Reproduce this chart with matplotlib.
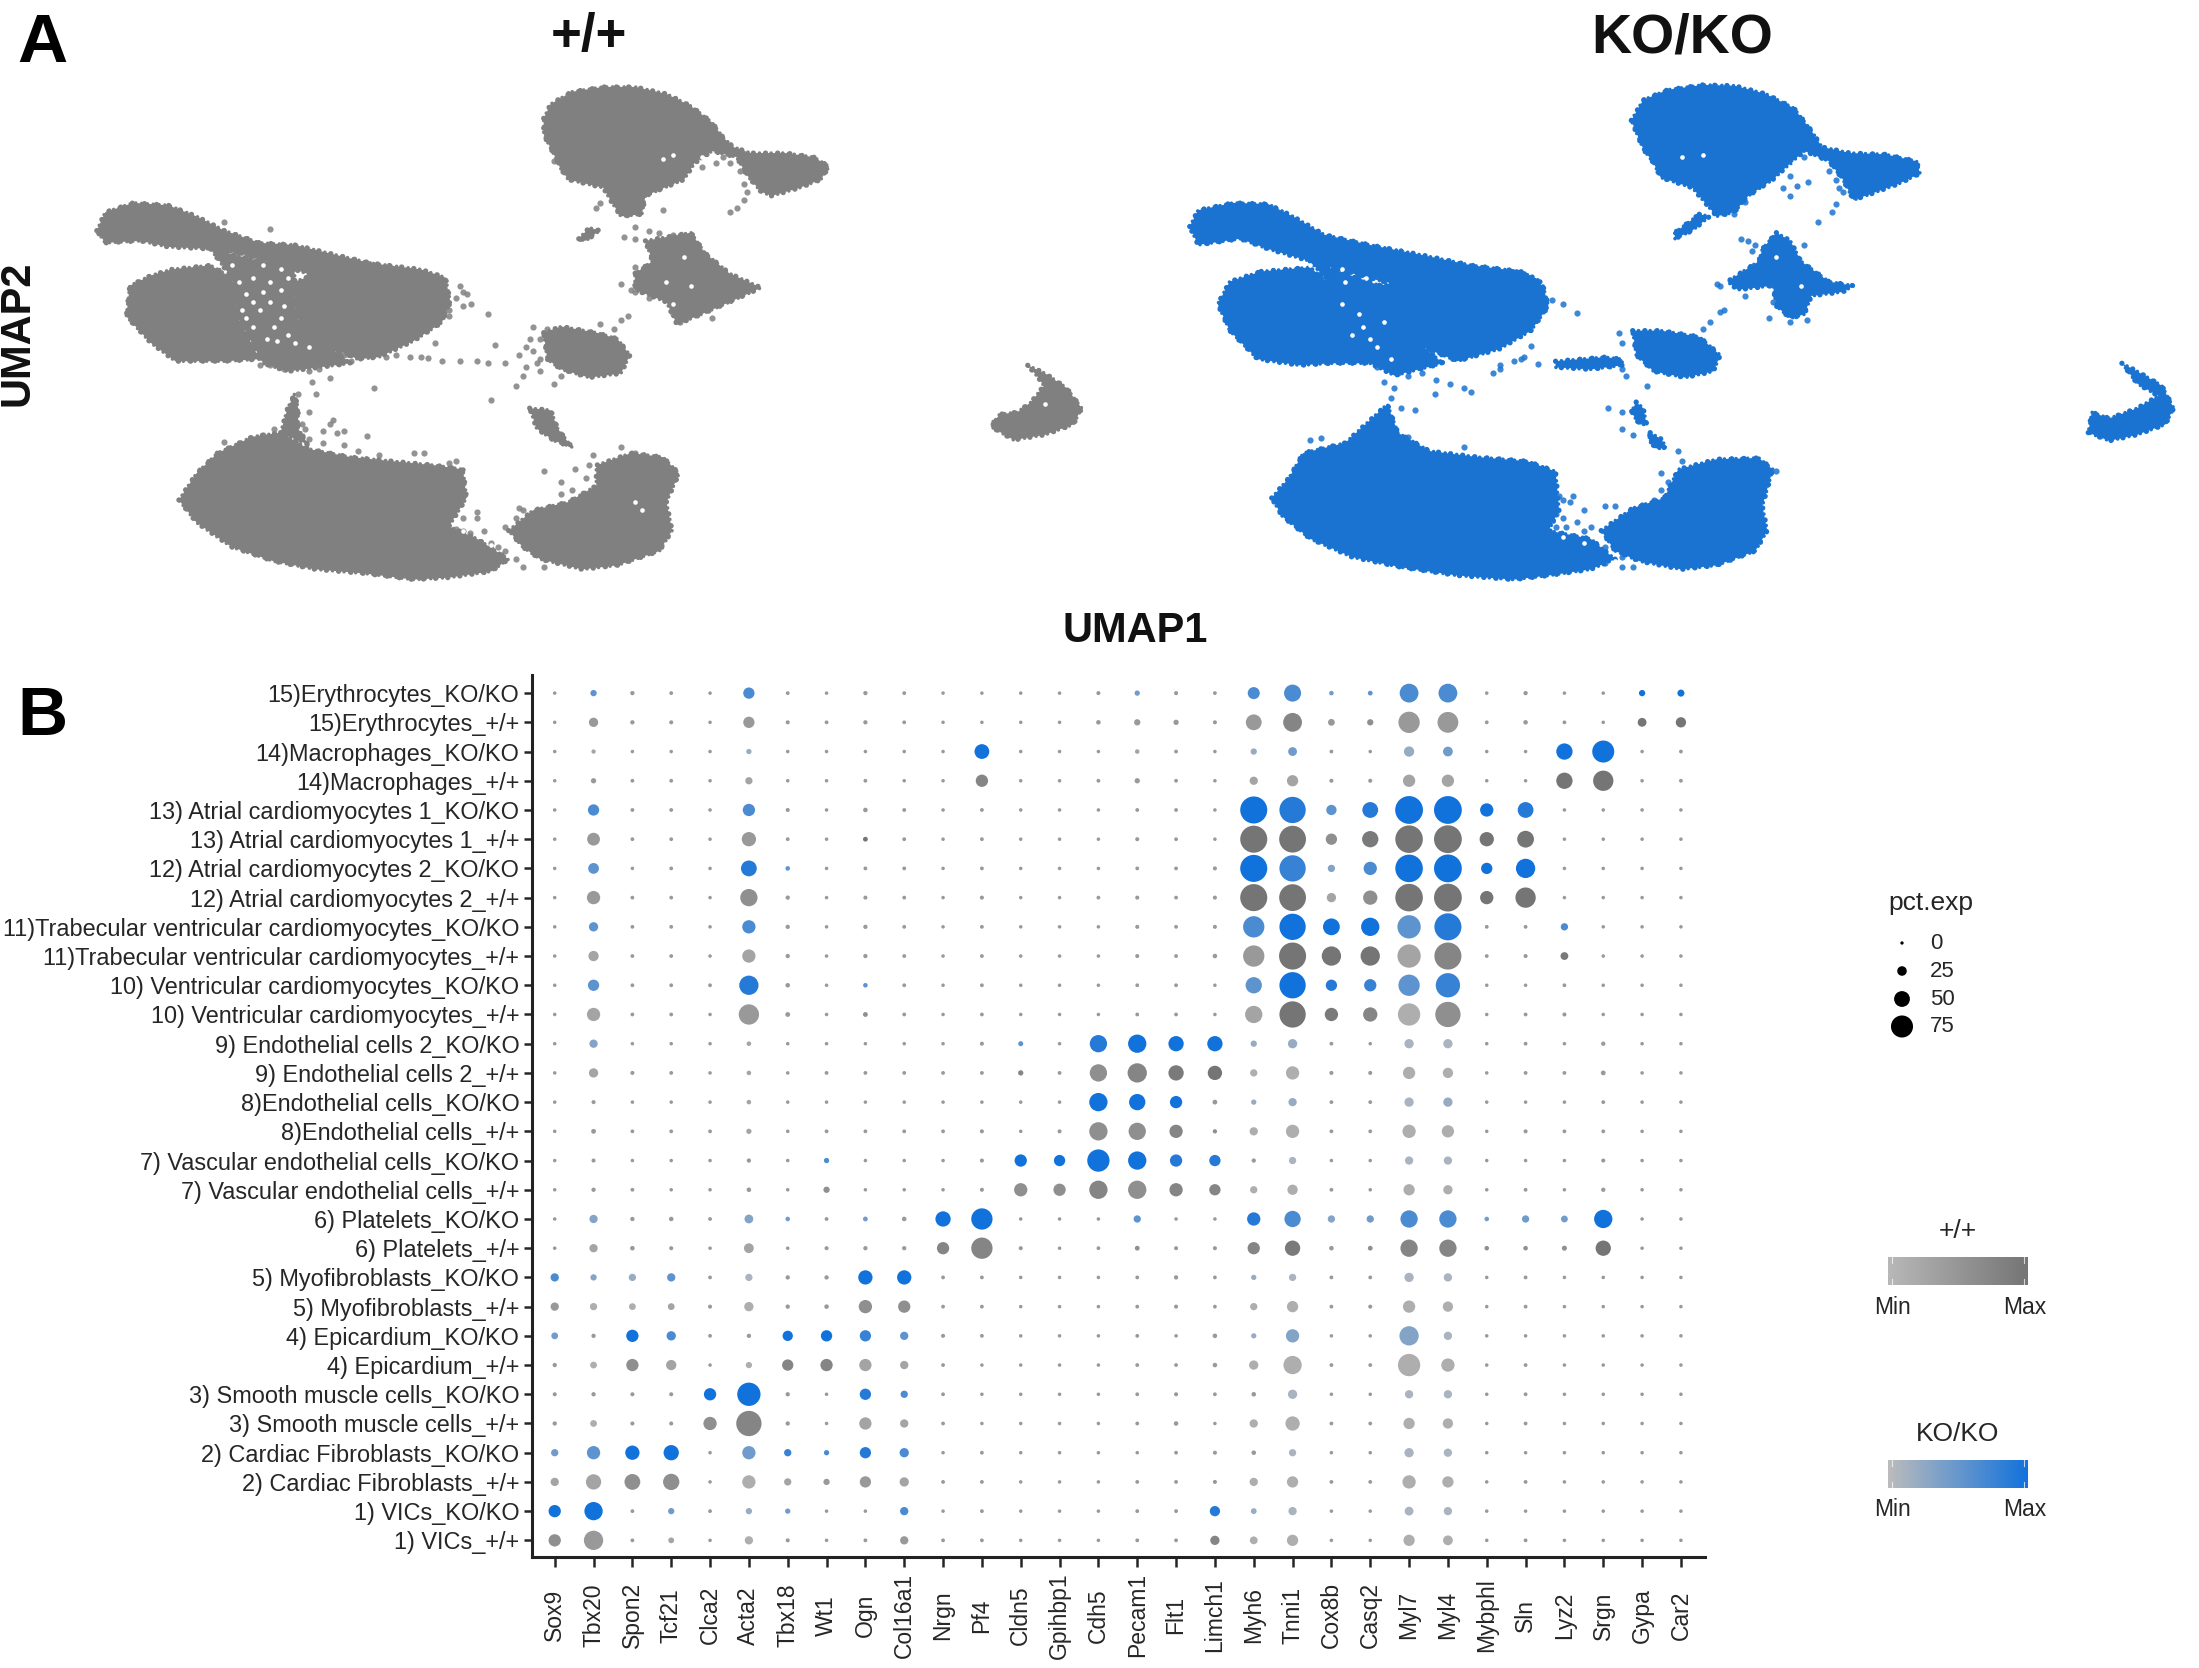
import numpy as np
import matplotlib
matplotlib.use("Agg")
import matplotlib.pyplot as plt
from matplotlib.colors import LinearSegmentedColormap, Normalize

plt.rcParams["font.family"] = ["Liberation Sans", "DejaVu Sans"]

W, H = 2199, 1668
GREY = "#808080"
BLUE = "#1a73d0"
TEXT = "#262626"

genes = ["Sox9", "Tbx20", "Spon2", "Tcf21", "Clca2", "Acta2", "Tbx18", "Wt1", "Ogn", "Col16a1",
         "Nrgn", "Pf4", "Cldn5", "Gpihbp1", "Cdh5", "Pecam1", "Flt1", "Limch1", "Myh6", "Tnni1",
         "Cox8b", "Casq2", "Myl7", "Myl4", "Mybphl", "Sln", "Lyz2", "Srgn", "Gypa", "Car2"]

clusters = ["15)Erythrocytes", "14)Macrophages", "13) Atrial cardiomyocytes 1", "12) Atrial cardiomyocytes 2",
            "11)Trabecular ventricular cardiomyocytes", "10) Ventricular cardiomyocytes", "9) Endothelial cells 2",
            "8)Endothelial cells", "7) Vascular endothelial cells", "6) Platelets", "5) Myofibroblasts",
            "4) Epicardium", "3) Smooth muscle cells", "2) Cardiac Fibroblasts", "1) VICs"]

# percent expressed, one row per group, top row of the plot first
pct_exp = [
    [1,12,4,2,1, 32,2,1,4,2, 1,1,1,1,3, 8,3,2,35,55, 5,6,62,62,1, 4,1,1,12,15],
    [1,24,4,3,1, 32,3,2,4,2, 1,1,1,1,5, 12,8,3,50,62, 14,12,72,70,2, 5,2,1,22,28],
    [1,4,1,1,1, 8,1,1,1,1, 1,46,1,1,1, 5,2,1,12,22, 2,1,28,26,1, 1,52,75,1,2],
    [1,8,2,2,1, 16,1,1,2,1, 1,36,1,1,2, 8,2,1,20,32, 3,3,36,36,1, 1,52,68,1,2],
    [1,32,2,2,1, 36,3,1,5,2, 1,2,1,1,1, 2,2,1,95,92, 28,50,98,98,40, 50,1,1,1,1],
    [1,38,2,2,1, 44,2,1,6,2, 1,2,1,1,1, 3,2,1,95,94, 32,52,97,98,44, 54,1,1,1,1],
    [1,30,1,2,1, 50,5,1,2,2, 1,2,1,1,1, 2,2,3,95,92, 16,40,97,98,32, 64,1,1,1,1],
    [1,40,2,2,1, 56,4,1,3,2, 1,3,1,1,2, 3,2,3,95,94, 24,44,97,98,40, 68,1,1,1,1],
    [1,24,2,2,1, 40,4,1,4,2, 1,2,1,1,1, 3,2,3,72,92, 54,60,80,95,2, 2,16,1,1,1],
    [1,28,2,2,1, 40,4,1,4,2, 1,2,1,1,1, 3,2,5,72,95, 64,64,80,95,2, 3,18,1,1,1],
    [1,32,2,2,2, 64,5,1,5,2, 1,2,1,1,1, 2,2,1,52,92, 32,36,72,84,1, 1,2,1,1,1],
    [1,40,2,2,1, 68,6,1,6,2, 1,2,1,1,1, 2,2,1,56,92, 40,44,76,88,1, 2,3,1,1,1],
    [1,20,1,1,1, 5,1,1,1,1, 1,3,7,1,56, 60,48,48,12,24, 2,1,24,24,1, 2,1,4,1,1],
    [1,24,3,2,1, 5,1,2,2,2, 2,2,8,2,56, 64,48,44,16,40, 3,3,36,28,1, 2,2,6,1,1],
    [1,3,1,1,1, 5,1,1,1,1, 1,1,1,1,60, 52,36,6,8,20, 2,2,24,24,1, 1,1,2,1,1],
    [1,6,2,2,2, 8,1,2,2,2, 2,3,1,3,60, 56,40,4,20,40, 2,2,40,36,1, 3,2,2,1,1],
    [1,3,1,1,1, 4,1,8,1,1, 1,3,36,32,76, 60,36,32,4,16, 1,1,20,20,1, 1,1,3,1,1],
    [1,4,2,1,1, 5,1,12,1,1, 1,3,40,36,60, 60,40,32,16,28, 2,1,32,24,1, 2,1,4,1,1],
    [1,20,4,5,2, 22,5,2,6,5, 48,72,1,1,1, 16,1,1,40,52, 16,16,56,56,5, 16,14,60,1,1],
    [1,20,5,3,1, 26,1,3,4,4, 36,72,3,1,2, 6,3,3,36,48, 5,6,56,56,5, 5,7,48,1,1],
    [20,12,16,20,2, 16,4,4,44,44, 2,2,1,1,1, 2,4,2,8,16, 2,2,24,20,1, 2,1,1,1,1],
    [20,16,14,14,3, 24,4,5,40,36, 2,2,1,1,1, 2,3,2,16,32, 2,3,36,28,1, 2,1,1,1,1],
    [14,4,36,24,2, 4,28,32,32,20, 3,2,1,1,1, 2,1,5,8,40, 1,1,64,20,1, 1,1,1,1,1],
    [4,14,36,28,1, 12,32,36,36,20, 2,1,1,1,1, 2,2,5,24,60, 2,2,76,40,1, 2,1,1,1,1],
    [3,4,3,3,36, 80,4,1,32,16, 2,1,1,1,1, 2,3,2,5,24, 1,1,20,20,1, 2,1,1,1,1],
    [4,14,3,3,40, 88,4,1,36,20, 2,1,1,1,1, 2,5,1,20,44, 2,2,32,28,1, 2,1,1,1,1],
    [16,40,44,48,1, 40,16,8,32,24, 1,2,1,1,1, 1,2,3,5,16, 1,1,24,20,1, 1,1,1,1,1],
    [20,48,50,52,1, 40,16,12,32,24, 2,2,1,1,1, 2,2,3,20,32, 2,2,40,32,1, 2,1,1,1,1],
    [36,60,2,12,2, 12,8,1,1,20, 1,2,1,1,1, 2,2,28,10,20, 1,1,22,20,1, 1,1,1,1,1],
    [36,64,2,10,1, 20,3,1,2,20, 2,2,1,1,1, 2,2,24,18,32, 1,1,32,26,1, 2,1,1,1,1],
]

# average expression on a 0-9 scale, same layout
avg_exp = [
    [3,5,3,3,3, 6,3,3,3,3, 3,3,3,3,3, 4,3,3,6,6, 4,5,6,6,3, 3,3,3,9,9],
    [3,3,3,3,3, 3,3,3,3,3, 3,3,3,3,3, 3,3,3,3,5, 3,4,3,3,3, 3,3,3,8,8],
    [3,2,3,3,3, 2,3,3,3,3, 3,9,3,3,3, 2,3,3,2,4, 3,3,2,4,3, 3,9,9,3,3],
    [3,3,3,3,3, 2,3,3,3,3, 3,5,3,3,3, 3,3,3,2,2, 3,3,2,2,3, 3,8,8,3,3],
    [3,6,3,3,3, 6,3,3,3,3, 3,3,3,3,3, 3,3,3,9,8, 5,8,9,9,9, 8,3,3,3,3],
    [3,3,3,3,3, 3,3,3,8,3, 3,3,3,3,3, 3,3,3,8,8, 4,6,8,8,9, 7,3,3,3,3],
    [3,5,3,3,3, 8,5,3,3,3, 3,3,3,3,3, 3,3,3,9,7, 3,6,9,9,9, 9,3,3,3,3],
    [3,3,3,3,3, 4,3,3,3,3, 3,3,3,3,3, 3,3,3,8,8, 2,4,8,7,8, 7,3,3,3,3],
    [3,5,3,3,3, 6,3,3,3,3, 3,3,3,3,3, 3,3,3,6,9, 9,9,5,8,3, 3,6,3,3,3],
    [3,2,3,3,3, 2,3,3,3,3, 3,3,3,3,3, 3,3,3,3,7, 7,7,2,5,3, 3,6,3,3,3],
    [3,5,3,3,3, 8,3,3,5,3, 3,3,3,3,3, 3,3,3,5,9, 8,7,5,7,3, 3,3,3,3,3],
    [3,2,3,3,3, 3,3,3,4,3, 3,3,3,3,3, 3,3,3,2,7, 6,5,1,4,3, 3,3,3,3,3],
    [3,3,3,3,3, 2,3,3,3,3, 3,3,5,3,8, 9,9,9,2,2, 3,3,1,1,3, 3,3,3,3,3],
    [3,2,3,3,3, 2,3,3,3,3, 3,3,5,3,4, 5,6,7,1,1, 3,3,1,1,3, 3,3,3,3,3],
    [3,3,3,3,3, 2,3,3,3,3, 3,3,3,3,9, 9,9,3,2,2, 3,3,1,2,3, 3,3,3,3,3],
    [3,3,3,3,3, 2,3,3,3,3, 3,3,3,3,4, 4,5,4,1,1, 3,3,1,1,3, 3,3,3,3,3],
    [3,3,3,3,3, 3,3,6,3,3, 3,3,9,9,9, 9,8,8,3,1, 3,3,1,1,3, 3,3,3,3,3],
    [3,3,3,3,3, 3,3,4,3,3, 3,3,4,4,5, 4,5,5,1,1, 3,3,1,1,3, 3,3,3,3,3],
    [3,3,3,3,3, 3,4,3,4,3, 9,9,3,3,3, 5,3,3,8,6, 3,4,6,6,4, 4,4,9,3,3],
    [3,2,3,3,3, 2,3,3,3,3, 5,5,3,3,3, 4,3,3,5,6, 3,4,5,5,4, 4,4,7,3,3],
    [6,3,2,5,3, 1,3,3,9,9, 3,3,3,3,3, 3,3,3,2,1, 3,3,1,1,3, 3,3,3,3,3],
    [3,1,1,2,3, 1,3,3,4,4, 3,3,3,3,3, 3,3,3,1,1, 3,3,1,1,3, 3,3,3,3,3],
    [4,3,9,6,3, 3,9,9,7,5, 3,3,3,3,3, 3,3,3,2,3, 3,3,3,1,3, 3,3,3,3,3],
    [3,1,4,2,3, 1,5,5,2,2, 3,3,3,3,3, 3,3,3,1,1, 3,3,1,1,3, 3,3,3,3,3],
    [3,3,3,3,9, 9,3,3,8,6, 3,3,3,3,3, 3,3,3,3,1, 3,3,1,1,3, 3,3,3,3,3],
    [3,1,3,3,4, 5,3,3,2,2, 3,3,3,3,3, 3,3,3,1,1, 3,3,1,1,3, 3,3,3,3,3],
    [4,5,9,9,3, 4,7,6,8,6, 3,3,3,3,3, 3,3,3,3,1, 3,3,1,1,3, 3,3,3,3,3],
    [2,2,4,4,3, 1,2,3,3,2, 3,3,3,3,3, 3,3,3,1,1, 3,3,1,1,3, 3,3,3,3,3],
    [9,9,3,4,3, 2,4,3,3,6, 3,3,3,3,3, 3,3,8,2,1, 3,3,1,1,3, 3,3,3,3,3],
    [4,3,3,2,3, 1,3,3,3,3, 3,3,3,3,3, 3,3,5,1,1, 3,3,1,1,3, 3,3,3,3,3],
]

legend_pct = [0, 25, 50, 75]

wt_top = [(775,290),(785,255),(815,225),(860,213),(905,213),(950,230),(985,260),(1015,300),(1030,335),(1045,360),(1070,375),
          (1120,375),(1160,385),(1182,408),(1170,440),(1140,460),(1100,480),(1085,470),(1065,430),(1050,385),(1015,370),
          (990,400),(975,440),(940,465),(920,480),(915,525),(885,530),(870,490),(860,460),(810,440),(798,410),(790,380),(775,330)]
wt_arm = [(138,565),(150,520),(190,497),(240,503),(280,530),(320,565),(370,595),(420,600),(480,625),(530,645),(470,690),
          (420,660),(340,620),(300,610),(240,605),(200,590),(150,595)]
wt_left = [(245,660),(300,650),(330,680),(340,780),(370,880),(320,885),(250,885),(215,840),(180,775),(185,700),(215,675)]
wt_right = [(420,690),(470,660),(530,645),(600,660),(635,680),(642,740),(630,790),(590,835),(540,875),(510,880),(470,850),
            (430,810),(420,750)]
wt_mid = [(300,610),(420,660),(420,750),(430,810),(470,850),(500,890),(410,910),(375,890),(340,780),(330,680)]
wt_big = [(255,1225),(280,1160),(310,1110),(360,1070),(400,1060),(440,1100),(500,1120),(560,1130),(620,1140),(660,1150),
          (665,1220),(640,1290),(680,1320),(725,1370),(700,1400),(640,1415),(590,1420),(520,1405),(450,1395),(390,1375),
          (330,1340),(280,1280)]
wt_neck = [(400,1060),(410,1000),(420,965),(425,1000),(425,1050),(440,1090)]
wt_low_right = [(725,1300),(760,1250),(810,1230),(850,1190),(850,1140),(900,1110),(945,1120),(968,1160),(950,1230),(958,1300),
                (940,1350),(880,1385),(830,1395),(770,1370),(745,1340)]
wt_blob = [(775,815),(800,800),(850,815),(880,830),(898,870),(885,915),(840,925),(800,905),(780,880)]
wt_star = [(920,590),(985,570),(1005,620),(1040,670),(1085,705),(1040,740),(1000,770),(965,795),(950,740),(905,710),(905,670),(930,640)]
wt_curve = [(1465,895),(1490,915),(1520,950),(1542,1000),(1530,1040),(1490,1065),(1445,1078),(1412,1045),(1425,1015),(1450,1010),
            (1470,985),(1488,945),(1480,925)]
wt_streak = [(755,1000),(785,1005),(795,1050),(815,1095),(790,1080),(765,1050)]
wt_small = [(825,585),(840,558),(855,565),(835,590)]
wt_outlines = [wt_top, wt_arm, wt_left, wt_right, wt_mid, wt_big, wt_neck, wt_low_right, wt_blob, wt_star, wt_curve, wt_streak, wt_small]

wt_points = [(385,560),(320,545),(695,770),(660,715),(672,745),(650,730),(660,750),(640,775),(620,840),(600,875),(610,878),(630,885),
             (655,885),(680,885),(695,890),(720,890),(740,870),(750,850),(705,845),(585,875),(565,870),(533,950),(700,980),(735,945),
             (745,920),(790,940),(770,910),(750,900),(440,910),(455,905),(445,935),(470,925),(450,965),(425,965),(415,1000),(415,1020),
             (440,1010),(435,1050),(460,1055),(490,1055),(475,1030),(523,1068),(320,1082),(775,1155),(800,1180),(820,1150),(845,1115),
             (885,1095),(905,1110),(850,510),(945,515),(855,498),(905,555),(890,580),(905,585),(885,695),(900,710),(855,795),(875,805),
             (885,785),(895,775),(1040,520),(1050,510),(1060,490),(1065,470),(760,800),(770,830),(760,860),(765,890),(680,1255),
             (660,1270),(690,1300),(660,1300),(740,1245),(745,1390),(775,1390),(720,1290),(700,1330),
             (370,895),(385,895),(405,905),(400,880),(395,860),(500,885),(490,870),(550,875),(655,700),(665,720),(640,760),
             (430,1040),(390,1050),(375,1065),(345,1090),(470,1040),(480,1060),(440,1075),(460,1085),(490,1090),(510,1105),(540,1115),
             (590,1110),(605,1110),(650,1130),(655,1160),(640,1135),(680,1270),(670,1305),(650,1295),(640,1300),(655,1310),(710,1340),
             (720,1350),(735,1370),(800,1210),(815,1200),(835,1170),(840,1140),(735,1270),(745,1250),(790,395),(800,380),(1000,375),
             (1020,400),(1040,400),(1055,420),(1060,450),(1000,410),(1030,385),(925,565),(940,570),(960,575),(905,655),(905,715),
             (925,730),(935,720),(1015,780),(970,790),(960,770),(780,805),(755,830),(770,880),(800,920)]
wt_gaps = [(340,690),(360,680),(385,690),(410,680),(350,720),(400,710),(370,760),(400,780),(360,800),(410,820),(380,830),(385,740),
           (345,760),(405,750),(375,715),(360,740),(350,780),(390,800),(420,840),(395,835),(440,850),(330,650),(375,650),(400,660),
           (960,380),(1000,385),(945,390),(915,1250),(905,1230),(700,1335),(660,1300),(1490,990),(950,690),(975,630),(985,700),(960,745)]

# same clusters, KO/KO sample
ko_top = [(758,295),(775,245),(810,220),(860,208),(905,210),(950,230),(990,265),(1015,320),(1030,360),(1070,375),(1120,378),
          (1165,395),(1170,425),(1140,450),(1100,475),(1075,490),(1060,440),(1040,395),(1005,370),(985,400),(960,440),(925,480),
          (905,520),(880,530),(860,490),(845,460),(800,435),(790,400),(775,365)]
ko_tail = [(855,525),(870,530),(845,565),(820,585),(820,570)]
ko_arm = [(128,555),(140,515),(190,497),(240,500),(275,530),(320,575),(385,600),(460,625),(530,650),(600,665),(630,690),(480,720),
          (380,680),(300,640),(240,610),(200,585),(140,600)]
ko_left = [(230,665),(300,655),(330,700),(340,780),(385,890),(330,890),(285,895),(225,880),(185,810),(168,745),(185,690)]
ko_right = [(400,700),(470,670),(600,665),(632,700),(640,750),(615,810),(570,855),(510,885),(460,850),(420,810),(395,760)]
ko_mid = [(300,640),(400,700),(395,760),(460,850),(490,890),(420,920),(385,890),(340,780),(330,700)]
ko_big = [(245,1220),(270,1170),(290,1110),(350,1085),(385,1030),(410,990),(425,1060),(470,1105),(540,1120),(610,1130),(650,1155),
          (655,1250),(640,1300),(700,1320),(735,1370),(700,1395),(640,1410),(590,1420),(510,1410),(430,1390),(360,1365),(300,1320),(260,1265)]
ko_low_right = [(715,1300),(760,1245),(805,1220),(825,1150),(880,1125),(940,1122),(960,1150),(945,1240),(952,1300),(935,1350),
                (880,1385),(830,1395),(770,1375),(735,1350)]
ko_blob = [(760,810),(800,810),(855,825),(885,870),(875,910),(835,925),(790,910),(765,870)]
ko_star = [(965,570),(985,590),(1000,640),(1040,690),(1075,700),(1060,715),(1015,725),(1005,770),(985,780),(965,750),(960,700),
           (910,710),(895,690),(940,640),(945,610)]
ko_curve = [(1458,890),(1480,910),(1515,945),(1532,1000),(1520,1040),(1480,1065),(1440,1080),(1410,1060),(1415,1010),(1440,1025),
            (1480,1000),(1510,970),(1480,940)]
ko_streak = [(765,985),(775,1000),(780,1040),(770,1040),(758,1010)]
ko_streak2 = [(785,1060),(800,1075),(808,1095),(795,1100),(783,1080)]
ko_bar = [(650,885),(720,875),(745,880),(745,895),(700,905),(650,900)]
ko_outlines = [ko_top, ko_tail, ko_arm, ko_left, ko_right, ko_mid, ko_big, ko_low_right, ko_blob, ko_star, ko_curve, ko_streak,
               ko_streak2, ko_bar]

ko_points = [(680,768),(660,745),(645,735),(615,848),(600,880),(570,895),(560,915),(625,893),(480,930),(500,940),(530,960),(478,965),
             (520,950),(450,1005),(430,1000),(315,1072),(300,1078),(440,1070),(520,1095),(725,1000),(745,1010),(745,1050),(760,1065),
             (825,1105),(830,1130),(800,1160),(965,1155),(745,840),(740,815),(745,905),(750,920),(780,945),(860,805),(870,790),(885,765),
             (890,760),(915,585),(935,600),(1005,600),(880,695),(955,780),(1008,785),(1025,545),(1045,520),(1050,500),(1055,460),(985,480),
             (995,455),(1010,445),(920,495),(905,525),(675,1215),(660,1225),(690,1250),(680,1280),(660,1270),(720,1240),(610,1305),(630,1290),
             (650,1290),(745,1365),(760,1390),(745,1390),(720,1380),(420,950),(405,935),(415,975),(440,920),(460,915),
             (395,900),(410,905),(425,915),(440,890),(460,880),(655,1215),(670,1230),(650,1260),(665,1290),(640,1310),(625,1310),(690,1300),
             (700,1290),(680,1320),(700,1360),(720,1340),(735,1240),(790,1225),(800,1200),(810,1180),(1005,385),(1020,360),(1040,420),
             (1050,440),(1060,470),(985,430),(975,460),(925,590),(930,615),(885,700),(920,725),(935,695),(960,740),(985,790),(590,885),
             (605,875),(570,905)]
ko_gaps = [(350,690),(380,680),(345,745),(375,800),(360,820),(385,830),(405,790),(370,770),(395,850),(415,880),(990,400),(1015,395),
           (690,1330),(660,1315),(860,380),(830,385),(965,630),(1000,700),(735,1375),(265,640),(300,650),(345,660)]


def px_axes(left, top, right, bottom):
    return fig.add_axes([left / W, 1 - bottom / H, (right - left) / W, (bottom - top) / H])


def px_text(x, y, s, **kw):
    kw.setdefault("ha", "center")
    kw.setdefault("va", "center")
    kw.setdefault("color", TEXT)
    fig.text(x / W, 1 - y / H, s, **kw)


def dot_size(pct):
    # radius grows linearly with percent, diameter in px turned into points^2
    d = 3.3 + 0.25 * np.asarray(pct, dtype=float)
    return (d * 72 / 100) ** 2


def draw_umap(ax, outlines, points, gaps, color):
    for outline in outlines:
        xs, ys = zip(*outline)
        ax.fill(xs, ys, facecolor=color, edgecolor=color, lw=2.6, linestyle=(0, (0.01, 1.6)), capstyle="round", joinstyle="round")
        # second stroke with another spacing so the edge does not look beaded
        ax.fill(xs, ys, fill=False, edgecolor=color, lw=3.8, linestyle=(0, (0.01, 2.3)), capstyle="round", joinstyle="round")
    xs, ys = zip(*points)
    ax.scatter(xs, ys, s=20, color=color, alpha=0.85, linewidths=0)
    xs, ys = zip(*gaps)
    ax.scatter(xs, ys, s=11, color="white", linewidths=0, zorder=3)
    ax.set_xlim(0, 1568)
    ax.set_ylim(1568, 0)
    ax.axis("off")


fig = plt.figure(figsize=(W / 100, H / 100), dpi=100, facecolor="white")

# panel A
draw_umap(px_axes(0, 0, 1100, 640), wt_outlines, wt_points, wt_gaps, GREY)
draw_umap(px_axes(1100, 0, 2199, 640), ko_outlines, ko_points, ko_gaps, BLUE)

px_text(42, 44, "A", fontsize=50, fontweight="bold", color="black")
px_text(42, 717, "B", fontsize=50, fontweight="bold", color="black")
px_text(589, 37, "+/+", fontsize=38, fontweight="bold", color="#111111")
px_text(1682, 38, "KO/KO", fontsize=40, fontweight="bold", color="#111111")
px_text(18, 333, "UMAP2", fontsize=30, fontweight="bold", rotation=90, color="#111111")
px_text(1135, 631, "UMAP1", fontsize=30, fontweight="bold", color="#111111")

# panel B
wt_cmap = LinearSegmentedColormap.from_list("wt", ["#b8b8b8", "#757575"])
ko_cmap = LinearSegmentedColormap.from_list("ko", ["#bcbcbc", "#1272dc"])
wt_norm = Normalize(0, 6.5, clip=True)
ko_norm = Normalize(0, 9)

ax = px_axes(531.8, 675, 1705, 1557)
pct = np.array(pct_exp)
expr = np.array(avg_exp)
n_rows = pct.shape[0]
row_labels = []
for name in clusters:
    row_labels += [name + "_KO/KO", name + "_+/+"]

for i in range(n_rows):
    y = np.full(len(genes), n_rows - 1 - i)
    x = np.arange(len(genes))
    if i % 2 == 0:
        # barely expressed dots read as plain grey in both genotypes
        tiny = (pct[i] <= 6) & (expr[i] <= 3)
        ax.scatter(x[~tiny], y[~tiny], s=dot_size(pct[i][~tiny]), c=expr[i][~tiny], cmap=ko_cmap, norm=ko_norm, linewidths=0, zorder=3)
        ax.scatter(x[tiny], y[tiny], s=dot_size(pct[i][tiny]), c=expr[i][tiny], cmap=wt_cmap, norm=wt_norm, linewidths=0, zorder=3)
    else:
        ax.scatter(x, y, s=dot_size(pct[i]), c=expr[i], cmap=wt_cmap, norm=wt_norm, linewidths=0, zorder=3)

ax.set_xlim(-0.59, 29.62)
ax.set_ylim(-0.57, 29.62)
ax.set_yticks(np.arange(n_rows)[::-1])
ax.set_yticklabels(row_labels, fontsize=16.9, color=TEXT)
ax.set_xticks(np.arange(len(genes)))
ax.set_xticklabels(genes, fontsize=16.5, color=TEXT, rotation=90, va="center")
ax.tick_params(axis="y", length=6, width=1.8, color=TEXT, pad=3)
ax.tick_params(axis="x", length=7, width=1.8, color=TEXT, pad=35)
ax.spines["top"].set_visible(False)
ax.spines["right"].set_visible(False)
ax.spines["left"].set_linewidth(2.2)
ax.spines["bottom"].set_linewidth(2.2)
ax.spines["left"].set_color("#222222")
ax.spines["bottom"].set_color("#222222")

# size legend
leg = px_axes(1880, 930, 1960, 1040)
leg.set_xlim(1880, 1960)
leg.set_ylim(1040, 930)
leg.axis("off")
leg_y = [943, 971, 999, 1026.5]
leg.scatter([1902] * len(legend_pct), leg_y, s=dot_size(legend_pct), color="black", linewidths=0)
px_text(1931, 903, "pct.exp", fontsize=19)
for value, y in zip(legend_pct, leg_y):
    px_text(1930, y, str(value), fontsize=16, ha="left")

# colour bars
for title, cmap, y_top in [("+/+", wt_cmap, 1257), ("KO/KO", ko_cmap, 1460)]:
    cb = px_axes(1888, y_top, 2028, y_top + 28)
    cb.imshow(np.linspace(0, 1, 200).reshape(1, -1), aspect="auto", cmap=cmap, extent=(0, 1, 0, 1))
    # small ggplot style ticks inside both ends of the bar
    for tick_x in [0.03, 0.97]:
        cb.plot([tick_x, tick_x], [0, 0.2], color="white", lw=0.8, alpha=0.7)
        cb.plot([tick_x, tick_x], [0.8, 1], color="white", lw=0.8, alpha=0.7)
    cb.set_xlim(0, 1)
    cb.set_ylim(0, 1)
    cb.axis("off")
    px_text(1958, y_top - 26, title, fontsize=19)
    px_text(1892, y_top + 50, "Min", fontsize=16.5)
    px_text(2025, y_top + 50, "Max", fontsize=16.5)

fig.savefig("out.png", dpi=100, facecolor="white")
